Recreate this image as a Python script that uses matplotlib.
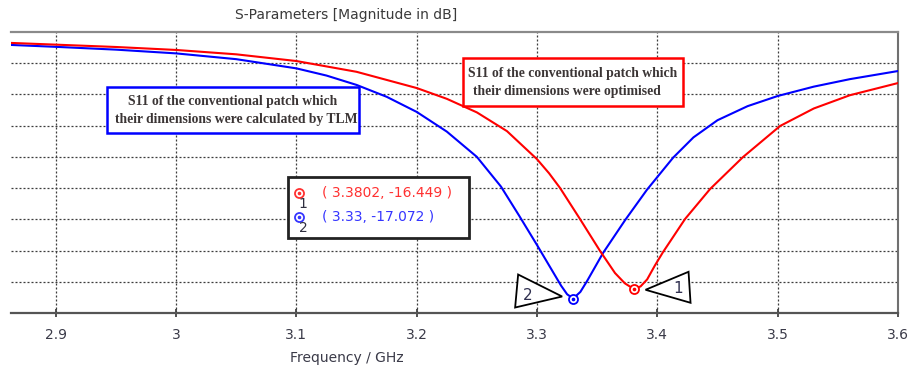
import matplotlib
matplotlib.use("Agg")
import matplotlib.pyplot as plt
import matplotlib.transforms as mtransforms
from matplotlib.patches import Rectangle, Polygon
from matplotlib.lines import Line2D

# ---------- data ----------
# S11 of the patch with dimensions calculated by TLM (blue)
freq_tlm = [2.863, 2.9, 2.95, 3.0, 3.05, 3.1, 3.125, 3.15, 3.175, 3.2, 3.225,
            3.25, 3.27, 3.285, 3.3, 3.31, 3.32, 3.325, 3.33, 3.336, 3.3416,
            3.3549, 3.3732, 3.3914, 3.4131, 3.43, 3.45, 3.475, 3.5, 3.53,
            3.56, 3.6]
s11_tlm = [-0.83, -0.95, -1.13, -1.37, -1.74, -2.33, -2.79, -3.39, -4.15,
           -5.12, -6.38, -8.0, -9.9, -11.75, -13.65, -14.95, -16.25, -16.8,
           -17.072, -16.65, -15.95, -14.15, -12.05, -10.1, -8.05, -6.75,
           -5.65, -4.75, -4.1, -3.5, -3.02, -2.5]

# S11 of the optimised patch (red)
freq_opt = [2.863, 2.9, 2.95, 3.0, 3.05, 3.1, 3.15, 3.2, 3.225, 3.25, 3.275,
            3.3, 3.31, 3.3191, 3.3357, 3.3524, 3.3648, 3.373, 3.3802, 3.386,
            3.3915, 3.398, 3.4047, 3.423, 3.4438, 3.4712, 3.502, 3.53, 3.56,
            3.6]
s11_opt = [-0.70, -0.81, -0.96, -1.15, -1.43, -1.86, -2.55, -3.59, -4.28,
           -5.15, -6.35, -8.15, -9.05, -9.99, -11.98, -14.03, -15.44, -16.1,
           -16.449, -16.3, -15.85, -14.95, -14.1, -11.98, -10.06, -8.01,
           -6.02, -4.9, -4.05, -3.27]

marker_opt = (3.3802, -16.449)
marker_tlm = (3.33, -17.072)

xticks = [2.9, 3.0, 3.1, 3.2, 3.3, 3.4, 3.5, 3.6]
xtick_labels = ["2.9", "3", "3.1", "3.2", "3.3", "3.4", "3.5", "3.6"]
yticks = [-16, -14, -12, -10, -8, -6, -4, -2]

RED = "#ff0000"
BLUE = "#0000ff"
TXT = "#3a3a48"

# ---------- figure ----------
W, H = 911, 371
fig = plt.figure(figsize=(W / 100, H / 100), dpi=100)


def fx(x):
    return x / W


def fy(y):
    return 1 - y / H


ax = fig.add_axes([fx(11), fy(313), (898 - 11) / W, (313 - 32) / H])

ax.plot(freq_tlm, s11_tlm, color=BLUE, lw=1.5, zorder=3)
ax.plot(freq_opt, s11_opt, color=RED, lw=1.5, zorder=3)

# marker circles on the curves
for (mx, my), c in [(marker_opt, RED), (marker_tlm, BLUE)]:
    ax.plot([mx], [my], marker="o", ms=6.5, mfc="white", mec=c, mew=1.3,
            zorder=4, clip_on=False)
    ax.plot([mx], [my], marker="o", ms=1.6, mfc=c, mec=c, zorder=5,
            clip_on=False)

ax.set_xlim(2.8628, 3.6)
ax.set_ylim(-18, 0)
ax.set_xticks(xticks)
ax.set_xticklabels(xtick_labels)
ax.set_yticks(yticks)
ax.set_yticklabels([])
ax.tick_params(axis="y", length=0)
ax.tick_params(axis="x", direction="inout", length=6, width=1.2,
               color="#333333", pad=8, labelsize=10, labelcolor=TXT)
ax.grid(True, color="#3c3c3c", lw=0.9, ls=(0, (1.6, 1.6)))
ax.set_axisbelow(True)

ax.spines["left"].set_visible(False)
ax.spines["top"].set_color("#8a8a8a")
ax.spines["top"].set_linewidth(1.6)
ax.spines["right"].set_color("#707070")
ax.spines["right"].set_linewidth(1.5)
ax.spines["bottom"].set_color("#555555")
ax.spines["bottom"].set_linewidth(1.6)

# ---------- triangle marker labels ----------
def tri(anchor, verts, label, lpos):
    trans = fig.dpi_scale_trans + mtransforms.ScaledTranslation(
        anchor[0], anchor[1], ax.transData)
    ax.add_patch(Polygon(verts, closed=True, fc="white", ec="black", lw=1.3,
                         transform=trans, zorder=6, clip_on=False))
    ax.text(lpos[0], lpos[1], label, transform=trans, ha="center",
            va="center", fontsize=11, color="#303050", zorder=7)


tri(marker_tlm, [(-0.55, 0.24), (-0.58, -0.09), (-0.11, 0.02)], "2",
    (-0.45, 0.03))
tri(marker_opt, [(0.12, -0.01), (0.55, 0.17), (0.57, -0.14)], "1",
    (0.45, 0.0))

# ---------- annotation boxes ----------
fig.add_artist(Rectangle((fx(107), fy(133)), (359 - 107) / W, (133 - 87) / H,
                         transform=fig.transFigure, fc="white", ec=BLUE,
                         lw=1.8, zorder=5))
serif = dict(fontfamily="Liberation Serif", fontweight="bold", fontsize=9.8,
             color="#3b3535", zorder=6)
fig.text(fx(233), fy(102), "S11 of the conventional patch which",
         ha="center", va="center", **serif)
fig.text(fx(236), fy(120), "their dimensions were calculated by TLM",
         ha="center", va="center", **serif)

fig.add_artist(Rectangle((fx(463), fy(106)), (683 - 463) / W, (106 - 58) / H,
                         transform=fig.transFigure, fc="white", ec=RED,
                         lw=1.8, zorder=5))
fig.text(fx(468), fy(73), "S11 of the conventional patch which",
         ha="left", va="center", **serif)
fig.text(fx(473), fy(91), "their dimensions were optimised",
         ha="left", va="center", **serif)

# marker read-out box
fig.add_artist(Rectangle((fx(288), fy(238)), (469 - 288) / W, (238 - 177) / H,
                         transform=fig.transFigure, fc="white", ec="#222222",
                         lw=2.0, zorder=5))
for (yy, c, num, txt) in [(193, "#ff3030", "1",
                           f"( {marker_opt[0]}, {marker_opt[1]} )"),
                          (217, "#3535ff", "2",
                           f"( {marker_tlm[0]}, {marker_tlm[1]} )")]:
    fig.add_artist(Line2D([fx(299)], [fy(yy)], marker="o", ms=6.5,
                          mfc="white", mec=c, mew=1.3,
                          transform=fig.transFigure, zorder=6))
    fig.add_artist(Line2D([fx(299)], [fy(yy)], marker="o", ms=1.6,
                          mfc=c, mec=c, transform=fig.transFigure, zorder=7))
    fig.text(fx(303), fy(yy + 11), num, ha="center", va="center",
             fontsize=10, color="#303040", zorder=7)
    fig.text(fx(322), fy(yy), txt, ha="left", va="center", fontsize=10,
             color=c, zorder=7)

# ---------- titles ----------
fig.text(fx(346), fy(15), "S-Parameters [Magnitude in dB]", ha="center",
         va="center", fontsize=10, color="#3a3a3a")
fig.text(fx(347), fy(358), "Frequency / GHz", ha="center", va="center",
         fontsize=10, color=TXT)

fig.savefig("out.png", dpi=100, facecolor="white")
